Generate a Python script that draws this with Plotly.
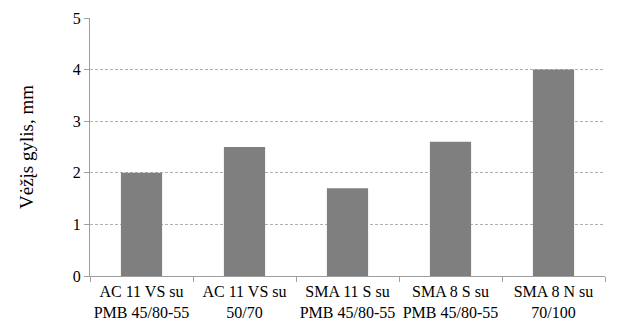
import plotly.graph_objects as go

categories = [
    "AC 11 VS su<br>PMB 45/80-55",
    "AC 11 VS su<br>50/70",
    "SMA 11 S su<br>PMB 45/80-55",
    "SMA 8 S su<br>PMB 45/80-55",
    "SMA 8 N su<br>70/100",
]
rut_depth = [2.0, 2.5, 1.7, 2.6, 4.0]
y_ticks = [0, 1, 2, 3, 4, 5]

font_family = "Times New Roman, Liberation Serif, serif"

fig = go.Figure(
    go.Bar(
        x=categories,
        y=rut_depth,
        marker=dict(color="#7f7f7f", line=dict(width=0)),
        width=0.4,
    )
)

fig.update_layout(
    width=618,
    height=322,
    margin=dict(l=90, r=13, t=18, b=46),
    paper_bgcolor="white",
    plot_bgcolor="white",
    showlegend=False,
    font=dict(family=font_family, size=16, color="#000000"),
)

fig.update_xaxes(
    showline=True,
    linecolor="#a0a0a0",
    linewidth=1,
    ticks="outside",
    ticklen=5,
    tickcolor="#a0a0a0",
    tickson="boundaries",
    tickangle=0,
    ticklabelstandoff=1,
    showgrid=False,
    automargin=False,
    tickfont=dict(family=font_family, size=16),
)

fig.update_yaxes(
    range=[0, 5],
    tickvals=y_ticks,
    showline=True,
    linecolor="#a0a0a0",
    linewidth=1,
    ticks="outside",
    ticklen=5,
    tickcolor="#a0a0a0",
    showgrid=True,
    gridcolor="#b0b0b0",
    griddash="3px,2px",
    gridwidth=1,
    zeroline=False,
    automargin=False,
    tickfont=dict(family=font_family, size=16),
    title=dict(text="Vėžįs gylis, mm", font=dict(family=font_family, size=19), standoff=34),
)

fig.write_html("out.html")
